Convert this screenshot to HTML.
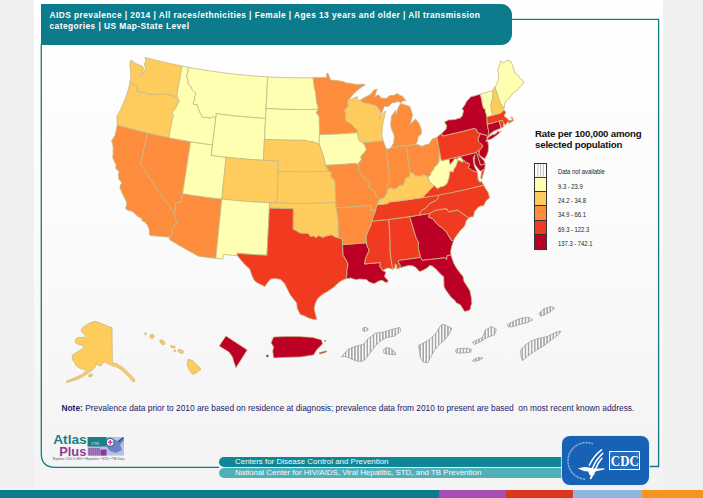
<!DOCTYPE html>
<html><head><meta charset="utf-8"><title>AIDS prevalence map</title>
<style>
html,body{margin:0;padding:0}
body{width:703px;height:498px;position:relative;overflow:hidden;background:#f0f0f0;font-family:"Liberation Sans",sans-serif}
.slide{position:absolute;left:33.5px;top:0;width:629.8px;height:490px;background:linear-gradient(180deg,#ffffff 0%,#fbfbfb 45%,#f3f3f3 100%)}
.hdr{position:absolute;left:40.5px;top:3.6px;width:471.3px;height:41.3px;background:#0c7c8d;border-radius:0 11px 11px 0;color:#fff;font-weight:bold;font-size:8.4px;line-height:11.1px;letter-spacing:0.43px}
.hdr div{position:absolute;left:9px;top:6.5px;white-space:nowrap}
.frame{position:absolute;left:0;top:0}
.map{position:absolute;left:0;top:0}
.lt{position:absolute;left:535px;top:127.8px;font-weight:bold;font-size:9.7px;line-height:11px;color:#111;white-space:nowrap;letter-spacing:-0.2px}
.lg{position:absolute;left:533.8px;top:162.5px;width:10.8px;border:0.6px solid #333}
.lg i{display:block;height:14.25px;border-bottom:0.6px solid #333;box-sizing:border-box}
.lg i:last-child{border-bottom:none}
.ll{position:absolute;left:557.5px;font-size:6.3px;color:#222;white-space:nowrap;line-height:8px;transform:scaleX(0.93);transform-origin:0 0}
   .note{position:absolute;left:61.5px;top:403.1px;font-size:8.35px;color:#1c2266;white-space:nowrap}
.bar1,.bar2{position:absolute;left:218.5px;width:345px;color:#f4fbfb;font-size:7.95px;white-space:nowrap;border-radius:6px 0 0 6px}
.bar1{top:456.5px;height:10px;background:#0f8796;line-height:10px}
.bar2{top:467.5px;height:10px;background:#4fb0ba;line-height:10px}
.bar1 span,.bar2 span{position:absolute;left:16.5px;top:0}
.stripe{position:absolute;left:0;top:489.5px;height:9px}
.cdc{position:absolute;left:562px;top:435.5px;width:86.5px;height:49.5px;border-radius:8px;background:#1762b4;box-shadow:0 0 0 0.8px #dfe9f5}
.cdcbox{position:absolute;left:47px;top:15.5px;width:31px;height:19px;border:0.9px solid #fff;box-sizing:border-box;color:#fff;font-family:"Liberation Serif",serif;font-weight:bold;font-size:15.5px;line-height:17.5px;text-align:center;background:repeating-linear-gradient(135deg,#1762b4 0 1.4px,#3f7fc6 1.4px 2.2px)}
.cdcbox span{display:inline-block;transform:scaleX(0.83);transform-origin:50% 50%;margin-left:-3px;margin-right:-3px}
.atlas{position:absolute;left:52.3px;top:433px;width:76px;height:30px}
</style></head><body>
<div class="slide"></div>
<svg class="frame" width="703" height="498" viewBox="0 0 703 498" fill="none" stroke="#127a86" stroke-width="1.3">
<path d="M511 19.4 H658.6 V466.5 H648"/>
<path d="M41.3 44 V453.5 Q41.3 467.3 55 467.3 H219"/>
</svg>
<div class="hdr"><div>AIDS prevalence | 2014 | All races/ethnicities | Female | Ages 13 years and older | All transmission<br>categories | US Map-State Level</div></div>
<svg class="map" width="703" height="498" viewBox="0 0 703 498">
<defs><pattern id="hatch" width="3.1" height="6" patternUnits="userSpaceOnUse"><rect width="3.1" height="6" fill="#fafafa"/><rect x="1" width="1.1" height="6" fill="#858585"/></pattern></defs>
<g stroke="#c6ba84" stroke-width="0.85" stroke-linejoin="round">
<path d="M145.0 57.4 L146.0 60.3 L144.5 63.7 L145.5 68.2 L143.9 72.0 L142.5 74.9 L140.5 76.0 L142.1 73.7 L143.5 69.8 L142.8 66.4 L140.8 65.6 L138.7 64.8 L135.6 63.4 L133.2 61.7 L130.7 60.1 L129.9 65.0 L130.3 68.3 L130.6 71.6 L130.9 76.0 L130.6 78.6 L129.9 82.7 L132.4 84.1 L133.9 84.4 L136.5 86.2 L137.0 88.9 L137.2 91.5 L139.6 92.7 L142.6 92.4 L145.3 92.6 L147.3 94.3 L149.9 94.2 L152.1 94.5 L154.3 94.7 L157.9 94.3 L160.6 94.0 L163.2 93.8 L166.0 94.4 L168.8 95.0 L171.6 95.6 L174.4 96.2 L177.2 96.7 L177.3 92.3 L178.1 87.9 L178.9 83.5 L179.7 79.1 L180.5 74.7 L181.3 70.4 L182.1 66.0 L179.0 65.4 L175.9 64.7 L172.8 64.1 L169.7 63.4 L166.6 62.7 L163.5 62.0 L160.4 61.3 L157.3 60.5 L154.2 59.8 L151.1 59.0 L148.0 58.2Z" fill="#FECC5C"/>
<path d="M177.2 96.7 L174.4 96.2 L171.6 95.6 L168.8 95.0 L166.0 94.4 L163.2 93.8 L160.6 94.0 L157.9 94.3 L154.3 94.7 L152.1 94.5 L149.9 94.2 L147.3 94.3 L145.3 92.6 L142.6 92.4 L139.6 92.7 L137.2 91.5 L137.0 88.9 L136.5 86.2 L133.9 84.4 L132.4 84.1 L129.9 82.7 L129.0 86.5 L128.1 90.4 L126.6 94.8 L125.1 99.2 L123.4 103.1 L121.7 107.0 L120.0 110.8 L118.5 113.4 L117.0 116.1 L117.1 120.7 L117.2 125.3 L120.6 126.2 L123.9 127.1 L127.3 128.0 L130.6 128.9 L134.0 129.8 L137.3 130.6 L140.7 131.5 L144.1 132.3 L147.4 133.1 L151.0 133.9 L154.6 134.7 L158.1 135.5 L161.7 136.2 L165.3 137.0 L168.9 137.7 L169.8 133.1 L170.6 128.4 L171.5 123.8 L172.3 119.2 L173.9 115.7 L172.1 113.8 L172.5 111.7 L175.7 108.1 L177.5 104.2 L179.4 101.4Z" fill="#FECC5C"/>
<path d="M117.2 125.3 L116.7 127.8 L115.9 131.4 L115.2 135.0 L113.4 137.9 L111.7 140.7 L113.1 145.9 L113.1 149.7 L113.1 153.6 L112.8 157.8 L114.5 161.6 L116.2 165.3 L115.8 168.4 L119.1 171.5 L118.3 174.6 L118.9 179.0 L120.4 181.1 L122.0 183.1 L120.3 184.8 L120.0 188.0 L121.7 192.0 L123.5 195.9 L125.1 199.0 L126.7 202.1 L126.5 204.8 L125.7 208.2 L126.9 209.7 L129.9 210.7 L133.0 211.7 L136.4 215.2 L139.3 217.4 L141.7 218.0 L142.0 220.7 L144.4 221.7 L147.5 225.1 L149.5 230.3 L149.3 233.5 L150.1 235.4 L154.1 235.8 L158.1 236.2 L162.2 236.5 L166.2 236.9 L170.2 237.2 L172.5 234.6 L171.5 230.2 L173.2 228.3 L174.7 224.3 L177.5 222.0 L175.8 219.7 L175.4 217.0 L174.7 213.7 L171.4 209.2 L168.2 204.7 L165.0 200.2 L161.8 195.7 L158.7 191.2 L155.6 186.7 L152.5 182.2 L149.5 177.6 L146.6 173.0 L143.6 168.5 L140.8 163.9 L141.9 158.7 L143.0 153.6 L144.1 148.5 L145.2 143.3 L146.3 138.2 L147.4 133.1 L144.1 132.3 L140.7 131.5 L137.3 130.6 L134.0 129.8 L130.6 128.9 L127.3 128.0 L123.9 127.1 L120.6 126.2Z" fill="#FD8D3C"/>
<path d="M147.4 133.1 L146.3 138.2 L145.2 143.3 L144.1 148.5 L143.0 153.6 L141.9 158.7 L140.8 163.9 L143.6 168.5 L146.6 173.0 L149.5 177.6 L152.5 182.2 L155.6 186.7 L158.7 191.2 L161.8 195.7 L165.0 200.2 L168.2 204.7 L171.4 209.2 L174.7 213.7 L175.1 210.5 L175.5 207.4 L175.6 202.9 L178.4 202.5 L181.3 202.1 L181.9 197.9 L182.6 193.7 L183.4 188.5 L184.2 183.3 L185.0 178.0 L185.8 172.8 L186.6 167.6 L187.4 162.5 L188.2 157.3 L189.0 152.1 L189.8 146.9 L190.6 141.7 L187.0 141.1 L183.4 140.4 L179.8 139.8 L176.2 139.1 L172.6 138.4 L169.0 137.7 L165.4 137.0 L161.8 136.2 L158.2 135.5 L154.6 134.7 L151.0 133.9Z" fill="#FD8D3C"/>
<path d="M182.6 193.7 L181.9 197.9 L181.3 202.1 L178.4 202.5 L175.6 202.9 L175.5 207.4 L175.1 210.5 L174.7 213.7 L175.4 217.0 L175.8 219.7 L177.5 222.0 L174.7 224.3 L173.2 228.3 L171.5 230.2 L172.5 234.6 L170.2 237.2 L169.1 239.4 L172.7 241.6 L176.4 243.7 L180.0 245.9 L183.7 248.0 L187.4 250.1 L191.2 252.2 L194.9 254.2 L198.7 256.3 L202.1 256.7 L205.5 257.1 L208.9 257.5 L212.3 257.9 L215.8 258.3 L216.3 253.4 L216.8 248.5 L217.3 243.6 L217.8 238.6 L218.3 233.7 L218.8 228.7 L219.3 223.8 L219.8 218.9 L220.3 213.9 L220.8 209.0 L221.3 204.0 L221.8 199.1 L217.9 198.6 L213.9 198.2 L210.0 197.7 L206.1 197.2 L202.2 196.6 L198.2 196.1 L194.3 195.5 L190.4 194.9 L186.5 194.3Z" fill="#FD8D3C"/>
<path d="M190.6 141.7 L194.3 142.3 L197.9 142.8 L201.6 143.4 L205.2 143.9 L208.8 144.4 L212.5 144.9 L211.9 150.1 L211.2 155.4 L214.9 155.8 L218.7 156.3 L222.4 156.8 L226.1 157.2 L225.6 162.4 L225.0 167.6 L224.5 172.9 L224.0 178.1 L223.4 183.4 L222.9 188.6 L222.4 193.8 L221.8 199.1 L217.9 198.6 L213.9 198.2 L210.0 197.7 L206.1 197.2 L202.2 196.6 L198.2 196.1 L194.3 195.5 L190.4 194.9 L186.5 194.3 L182.6 193.7 L183.4 188.5 L184.2 183.3 L185.0 178.0 L185.8 172.8 L186.6 167.6 L187.4 162.5 L188.2 157.3 L189.0 152.1 L189.8 146.9Z" fill="#FFFFB2"/>
<path d="M182.1 66.0 L181.3 70.4 L180.5 74.7 L179.7 79.1 L178.9 83.5 L178.1 87.9 L177.3 92.3 L177.2 96.7 L179.4 101.4 L177.5 104.2 L175.7 108.1 L172.5 111.7 L172.1 113.8 L173.9 115.7 L172.3 119.2 L171.5 123.8 L170.6 128.4 L169.8 133.1 L168.9 137.7 L172.5 138.4 L176.1 139.1 L179.8 139.8 L183.4 140.4 L187.0 141.1 L190.6 141.7 L194.3 142.3 L197.9 142.8 L201.6 143.4 L205.2 143.9 L208.8 144.4 L212.5 144.9 L213.1 139.8 L213.8 134.6 L214.4 129.4 L215.0 124.3 L215.7 119.1 L214.5 117.2 L213.2 116.3 L210.4 118.2 L206.9 117.2 L204.9 117.4 L202.9 117.6 L200.6 113.6 L199.5 111.8 L198.2 107.9 L197.3 104.6 L194.1 104.6 L193.0 102.8 L194.4 100.9 L194.5 97.8 L196.0 93.3 L194.2 91.4 L192.3 89.5 L190.5 86.0 L187.7 83.7 L188.4 80.9 L186.7 77.6 L187.3 74.2 L187.9 70.7 L188.5 67.3 L185.3 66.7Z" fill="#FFFFB2"/>
<path d="M188.5 67.3 L187.9 70.7 L187.3 74.2 L186.7 77.6 L188.4 80.9 L187.7 83.7 L190.5 86.0 L192.3 89.5 L194.2 91.4 L196.0 93.3 L194.5 97.8 L194.4 100.9 L193.0 102.8 L194.1 104.6 L197.3 104.6 L198.2 107.9 L199.5 111.8 L200.6 113.6 L202.9 117.6 L204.9 117.4 L206.9 117.2 L210.4 118.2 L213.2 116.3 L214.5 117.2 L215.7 119.1 L216.0 116.4 L216.3 113.7 L219.8 114.2 L223.3 114.6 L226.9 115.0 L230.4 115.4 L233.9 115.8 L237.4 116.2 L240.9 116.5 L244.4 116.8 L248.0 117.1 L251.5 117.4 L255.0 117.7 L258.5 117.9 L262.1 118.2 L265.6 118.4 L265.9 113.1 L266.1 107.9 L266.4 102.7 L266.7 97.6 L266.9 92.4 L267.2 87.2 L267.4 82.0 L267.7 76.9 L264.4 76.7 L261.1 76.5 L257.8 76.2 L254.4 76.0 L251.1 75.7 L247.8 75.4 L244.5 75.1 L241.2 74.8 L237.9 74.5 L234.6 74.1 L231.3 73.8 L228.0 73.4 L224.7 73.0 L221.4 72.5 L218.1 72.1 L214.8 71.6 L211.5 71.1 L208.2 70.6 L204.9 70.1 L201.6 69.6 L198.4 69.0 L195.1 68.5 L191.8 67.9Z" fill="#FFFFB2"/>
<path d="M216.3 113.7 L219.8 114.2 L223.3 114.6 L226.9 115.0 L230.4 115.4 L233.9 115.8 L237.4 116.2 L240.9 116.5 L244.4 116.8 L248.0 117.1 L251.5 117.4 L255.0 117.7 L258.5 117.9 L262.1 118.2 L265.6 118.4 L265.3 123.6 L265.0 128.8 L264.8 134.0 L264.5 139.3 L264.2 144.5 L264.0 149.8 L263.7 155.0 L263.4 160.3 L259.7 160.0 L256.0 159.8 L252.2 159.6 L248.5 159.3 L244.7 159.0 L241.0 158.7 L237.3 158.3 L233.6 158.0 L229.8 157.6 L226.1 157.2 L222.4 156.8 L218.7 156.3 L214.9 155.8 L211.2 155.4 L211.9 150.1 L212.5 144.9 L213.1 139.7 L213.8 134.5 L214.4 129.3 L215.1 124.1 L215.7 118.9Z" fill="#FFFFB2"/>
<path d="M226.1 157.2 L229.8 157.6 L233.6 158.0 L237.3 158.3 L241.0 158.7 L244.7 159.0 L248.5 159.3 L252.2 159.6 L256.0 159.8 L259.7 160.0 L263.4 160.3 L267.2 160.5 L270.9 160.6 L274.7 160.8 L278.4 160.9 L278.2 166.2 L278.1 171.5 L277.9 176.7 L277.8 182.0 L277.6 187.2 L277.5 192.5 L277.3 197.8 L277.2 203.0 L273.5 202.9 L269.8 202.8 L266.1 202.6 L262.4 202.4 L258.7 202.2 L255.0 202.0 L251.3 201.7 L247.6 201.5 L243.9 201.2 L240.2 200.9 L236.5 200.5 L232.9 200.2 L229.2 199.8 L225.5 199.5 L221.8 199.1 L222.4 193.8 L222.9 188.6 L223.4 183.4 L224.0 178.1 L224.5 172.9 L225.0 167.6 L225.6 162.4Z" fill="#FECC5C"/>
<path d="M221.8 199.1 L225.5 199.5 L229.1 199.8 L232.8 200.2 L236.5 200.5 L240.2 200.9 L243.8 201.2 L247.5 201.4 L251.2 201.7 L254.9 202.0 L258.5 202.2 L262.2 202.4 L265.9 202.6 L269.6 202.8 L269.4 208.0 L269.1 213.3 L268.8 218.5 L268.6 223.8 L268.3 229.0 L268.0 234.3 L267.7 239.5 L267.5 244.8 L267.2 250.0 L266.9 255.3 L263.2 255.1 L259.4 254.9 L255.7 254.7 L251.9 254.4 L248.2 254.2 L244.4 253.9 L240.7 253.6 L236.9 253.3 L237.5 255.7 L233.9 255.4 L230.4 255.1 L226.9 254.7 L223.3 254.4 L222.9 259.1 L219.3 258.7 L215.8 258.3 L216.3 253.4 L216.8 248.5 L217.3 243.6 L217.8 238.6 L218.3 233.7 L218.8 228.7 L219.3 223.8 L219.8 218.9 L220.3 213.9 L220.8 209.0 L221.3 204.0Z" fill="#FFFFB2"/>
<path d="M267.7 76.9 L270.9 77.1 L274.2 77.2 L277.4 77.3 L280.7 77.5 L283.9 77.6 L287.1 77.6 L290.4 77.7 L293.6 77.8 L296.8 77.8 L300.1 77.8 L303.3 77.8 L306.6 77.8 L309.8 77.8 L313.0 77.7 L313.8 82.8 L314.4 88.0 L315.9 93.2 L316.2 98.3 L316.8 103.5 L317.9 105.6 L318.3 109.3 L314.8 109.4 L311.3 109.5 L307.8 109.5 L304.3 109.5 L300.9 109.5 L297.4 109.5 L293.9 109.5 L290.4 109.4 L286.9 109.4 L283.5 109.3 L280.0 109.2 L276.5 109.1 L273.0 108.9 L269.6 108.7 L266.1 108.6 L266.3 104.0 L266.6 99.5 L266.8 94.9 L267.0 90.4 L267.2 85.9 L267.5 81.4Z" fill="#FFFFB2"/>
<path d="M266.1 108.6 L269.6 108.7 L273.0 108.9 L276.5 109.1 L280.0 109.2 L283.5 109.3 L286.9 109.4 L290.4 109.4 L293.9 109.5 L297.4 109.5 L300.9 109.5 L304.3 109.5 L307.8 109.5 L311.3 109.5 L314.8 109.4 L318.3 109.3 L316.3 112.9 L319.2 116.0 L319.3 120.7 L319.4 125.4 L319.6 130.1 L319.7 134.8 L319.0 136.9 L319.8 139.0 L318.8 142.2 L319.9 145.4 L316.2 142.8 L314.4 142.6 L312.9 141.6 L309.6 141.8 L307.3 141.1 L304.9 140.3 L301.5 140.3 L298.2 140.3 L294.8 140.3 L291.4 140.2 L288.1 140.2 L284.7 140.1 L281.3 140.0 L278.0 139.9 L274.6 139.8 L271.2 139.6 L267.9 139.5 L264.5 139.3 L264.8 134.1 L265.0 129.0 L265.3 123.9 L265.6 118.8 L265.8 113.7Z" fill="#FFFFB2"/>
<path d="M264.5 139.3 L267.9 139.5 L271.2 139.6 L274.6 139.8 L278.0 139.9 L281.3 140.0 L284.7 140.1 L288.1 140.2 L291.4 140.2 L294.8 140.3 L298.2 140.3 L301.5 140.3 L304.9 140.3 L307.3 141.1 L309.6 141.8 L312.9 141.6 L314.4 142.6 L316.2 142.8 L319.9 145.4 L321.6 150.5 L322.8 153.6 L324.2 158.3 L325.0 162.0 L325.6 165.3 L327.4 168.6 L329.3 171.3 L325.6 171.4 L322.0 171.5 L318.3 171.6 L314.6 171.7 L311.0 171.8 L307.3 171.8 L303.7 171.8 L300.0 171.8 L296.4 171.8 L292.7 171.8 L289.0 171.7 L285.4 171.7 L281.7 171.6 L278.1 171.5 L278.2 166.2 L278.4 160.9 L274.7 160.8 L270.9 160.6 L267.2 160.5 L263.4 160.3 L263.7 155.0 L264.0 149.8 L264.2 144.5Z" fill="#FECC5C"/>
<path d="M278.1 171.5 L281.7 171.6 L285.4 171.7 L289.0 171.7 L292.7 171.8 L296.4 171.8 L300.0 171.8 L303.7 171.8 L307.3 171.8 L311.0 171.8 L314.6 171.7 L318.3 171.6 L322.0 171.5 L325.6 171.4 L329.3 171.3 L331.7 172.8 L331.0 176.0 L332.7 178.5 L335.0 180.3 L335.2 184.8 L335.4 189.2 L335.5 193.7 L335.7 198.2 L335.9 202.6 L332.0 202.8 L328.1 203.0 L324.2 203.1 L320.2 203.2 L316.3 203.3 L312.4 203.4 L308.5 203.4 L304.6 203.4 L300.7 203.5 L296.7 203.4 L292.8 203.4 L288.9 203.3 L285.0 203.3 L281.1 203.2 L277.2 203.0 L277.3 197.8 L277.5 192.5 L277.6 187.2 L277.8 182.0 L277.9 176.7Z" fill="#FECC5C"/>
<path d="M269.6 202.8 L273.5 202.9 L277.4 203.1 L281.3 203.2 L285.2 203.3 L289.1 203.3 L293.0 203.4 L296.9 203.4 L300.8 203.5 L304.7 203.4 L308.6 203.4 L312.5 203.4 L316.4 203.3 L320.3 203.2 L324.2 203.1 L328.1 203.0 L332.0 202.8 L335.9 202.6 L336.1 207.9 L336.8 211.8 L337.5 215.6 L338.2 219.5 L338.3 224.1 L338.4 228.7 L338.4 233.3 L338.5 237.9 L335.9 237.4 L331.7 234.9 L327.6 235.8 L325.2 236.6 L322.7 237.4 L320.6 236.6 L318.1 235.4 L316.5 237.7 L313.6 236.0 L310.3 236.6 L308.2 233.4 L304.5 233.4 L302.0 233.2 L299.6 232.9 L296.3 230.8 L293.1 229.1 L293.1 224.0 L293.2 218.9 L293.2 213.8 L293.3 208.7 L289.3 208.6 L285.3 208.5 L281.3 208.4 L277.3 208.3 L273.3 208.2 L269.4 208.0Z" fill="#FECC5C"/>
<path d="M269.4 208.0 L273.3 208.2 L277.3 208.3 L281.3 208.4 L285.3 208.5 L289.3 208.6 L293.3 208.7 L293.2 213.8 L293.2 218.9 L293.1 224.0 L293.1 229.1 L296.3 230.8 L299.6 232.9 L302.0 233.2 L304.5 233.4 L308.2 233.4 L310.3 236.6 L313.6 236.0 L316.5 237.7 L318.1 235.4 L320.6 236.6 L322.7 237.4 L325.2 236.6 L327.6 235.8 L331.7 234.9 L335.9 237.4 L338.5 237.9 L342.3 238.7 L342.4 241.5 L342.6 244.4 L342.8 249.7 L343.1 254.9 L345.4 259.0 L347.7 263.0 L347.9 266.2 L346.8 270.4 L347.0 274.6 L346.0 278.8 L343.6 279.8 L341.3 280.7 L338.3 282.9 L334.5 286.7 L330.9 289.2 L327.2 291.7 L324.8 293.0 L322.4 294.4 L320.0 296.5 L317.6 298.7 L315.5 302.9 L314.2 308.1 L315.2 313.2 L316.6 318.4 L316.7 319.7 L313.9 319.5 L311.2 318.7 L308.5 318.0 L304.8 315.9 L300.3 314.4 L298.7 311.3 L297.2 308.2 L296.7 303.0 L293.7 299.3 L290.6 295.6 L288.0 290.4 L286.3 287.0 L284.6 283.6 L280.4 279.3 L277.8 279.0 L275.2 278.6 L270.8 279.0 L267.6 282.5 L264.8 286.6 L262.5 285.4 L260.1 284.2 L257.6 283.1 L254.2 280.3 L251.9 275.4 L250.8 272.2 L249.7 269.0 L247.2 266.7 L244.8 264.5 L240.8 260.0 L237.5 255.7 L236.9 253.3 L240.7 253.6 L244.4 253.9 L248.2 254.2 L251.9 254.4 L255.7 254.7 L259.4 254.9 L263.2 255.1 L266.9 255.3 L267.2 250.0 L267.5 244.8 L267.7 239.5 L268.0 234.3 L268.3 229.0 L268.6 223.8 L268.8 218.5 L269.1 213.3Z" fill="#F03B20"/>
<path d="M342.6 244.4 L346.6 244.2 L350.6 244.0 L354.5 243.7 L358.5 243.4 L362.5 243.1 L366.5 242.8 L367.4 246.9 L369.3 249.9 L367.9 253.2 L365.7 258.1 L365.1 261.0 L364.5 264.0 L368.4 263.6 L372.4 263.3 L376.4 262.9 L380.4 262.5 L379.9 266.2 L382.7 270.7 L385.9 271.9 L385.2 274.1 L384.6 276.8 L388.1 280.6 L387.4 282.8 L384.7 282.0 L382.3 280.2 L378.9 281.0 L374.7 283.5 L372.0 283.2 L368.4 281.5 L366.5 279.5 L362.1 279.3 L359.5 279.0 L356.0 279.8 L353.4 278.9 L350.7 278.0 L348.3 278.4 L346.0 278.8 L347.0 274.6 L346.8 270.4 L347.9 266.2 L347.7 263.0 L345.4 259.0 L343.1 254.9 L342.8 249.7Z" fill="#BD0026"/>
<path d="M371.9 221.2 L370.3 226.6 L367.5 232.1 L365.8 237.0 L366.1 239.9 L366.5 242.8 L367.4 246.9 L369.3 249.9 L367.9 253.2 L365.7 258.1 L365.1 261.0 L364.5 264.0 L368.4 263.6 L372.4 263.3 L376.4 262.9 L380.4 262.5 L379.9 266.2 L382.7 270.7 L384.3 269.5 L387.2 268.1 L389.9 268.3 L392.6 269.4 L392.0 265.0 L391.3 260.7 L390.7 256.3 L390.1 252.0 L390.1 248.1 L390.1 244.2 L390.1 240.4 L389.8 235.1 L389.5 229.9 L389.2 224.6 L388.8 219.4 L385.5 219.8 L382.1 220.1 L378.7 220.5 L375.3 220.8Z" fill="#F03B20"/>
<path d="M388.8 219.4 L389.2 224.6 L389.5 229.9 L389.8 235.1 L390.1 240.4 L390.1 244.2 L390.1 248.1 L390.1 252.0 L390.7 256.3 L391.3 260.7 L392.0 265.0 L392.6 269.4 L395.0 267.7 L395.2 264.2 L396.1 264.4 L397.1 267.0 L396.0 268.9 L398.6 268.4 L400.1 267.9 L400.4 265.5 L398.5 262.0 L398.5 260.5 L402.2 260.0 L405.9 259.5 L409.5 259.0 L413.2 258.5 L416.9 257.9 L420.6 257.4 L419.4 252.3 L418.4 248.2 L418.4 245.2 L418.5 242.2 L416.3 238.4 L415.0 234.1 L413.7 229.7 L412.4 225.3 L411.1 221.0 L409.8 216.6 L406.3 217.1 L402.8 217.6 L399.3 218.0 L395.8 218.5 L392.3 218.9Z" fill="#F03B20"/>
<path d="M409.8 216.6 L411.1 221.0 L412.4 225.3 L413.7 229.7 L415.0 234.1 L416.3 238.4 L418.5 242.2 L418.4 245.2 L418.4 248.2 L419.4 252.3 L420.6 257.4 L422.2 260.3 L426.0 259.9 L429.8 259.5 L433.6 259.1 L437.4 258.7 L441.1 258.2 L444.9 257.7 L446.6 259.8 L447.2 255.5 L451.0 255.1 L450.7 251.1 L451.7 246.6 L452.6 243.6 L453.6 240.6 L451.4 240.3 L449.0 236.5 L446.4 231.7 L441.7 227.5 L440.0 226.5 L436.0 222.9 L432.8 218.7 L428.4 217.0 L429.9 213.3 L425.9 214.0 L421.9 214.7 L417.9 215.4 L413.8 216.0Z" fill="#BD0026"/>
<path d="M420.6 257.4 L416.9 257.9 L413.2 258.5 L409.5 259.0 L405.9 259.5 L402.2 260.0 L398.5 260.5 L398.5 262.0 L400.4 265.5 L400.1 267.9 L402.2 267.2 L404.4 266.6 L408.6 265.5 L413.0 265.9 L415.9 267.6 L419.5 271.6 L422.4 270.6 L424.9 269.3 L427.3 268.0 L429.6 265.5 L432.3 266.1 L436.4 269.6 L440.1 273.7 L443.7 276.8 L443.8 279.9 L443.9 283.1 L444.0 286.3 L445.3 289.2 L447.2 292.0 L449.2 294.8 L451.3 297.6 L454.5 300.1 L456.4 302.9 L460.4 304.8 L462.0 307.4 L463.6 309.9 L464.5 311.6 L468.9 310.5 L470.5 309.1 L470.7 306.4 L471.9 303.3 L471.6 300.6 L471.4 297.8 L470.7 294.5 L470.1 291.2 L468.6 288.6 L467.0 286.1 L464.0 281.4 L463.2 276.8 L460.6 273.6 L457.1 269.0 L455.4 266.1 L453.8 263.3 L452.0 258.3 L451.0 255.1 L447.2 255.5 L446.6 259.8 L444.9 257.7 L441.1 258.2 L437.4 258.7 L433.6 259.1 L429.8 259.5 L426.0 259.9 L422.2 260.3Z" fill="#BD0026"/>
<path d="M429.9 213.3 L428.4 217.0 L432.8 218.7 L436.0 222.9 L440.0 226.5 L441.7 227.5 L446.4 231.7 L449.0 236.5 L451.4 240.3 L453.6 240.6 L454.8 238.0 L457.2 234.8 L459.9 231.1 L462.4 228.4 L464.8 225.7 L466.3 220.6 L468.7 217.9 L465.0 215.3 L461.3 212.7 L457.6 210.1 L454.6 210.7 L451.6 211.2 L448.6 211.8 L447.1 209.1 L446.3 209.8 L446.1 208.5 L442.6 209.1 L439.1 209.7 L435.6 210.2 L432.7 211.8Z" fill="#F03B20"/>
<path d="M438.4 194.8 L438.5 197.4 L435.9 200.5 L432.2 202.3 L429.9 203.2 L427.4 205.8 L425.8 208.1 L422.0 209.9 L420.0 212.4 L420.1 215.0 L423.4 214.5 L426.6 213.9 L429.9 213.3 L432.7 211.8 L435.6 210.2 L439.1 209.7 L442.6 209.1 L446.1 208.5 L446.3 209.8 L447.1 209.1 L448.6 211.8 L451.6 211.2 L454.6 210.7 L457.6 210.1 L461.3 212.7 L465.0 215.3 L468.7 217.9 L470.6 216.9 L473.4 216.8 L474.8 211.1 L476.7 209.0 L478.5 206.9 L481.6 205.7 L483.2 206.3 L484.7 203.5 L486.3 200.7 L489.6 197.7 L488.8 194.9 L488.0 192.1 L485.4 188.4 L483.7 185.1 L479.9 186.0 L476.2 186.9 L472.4 187.8 L468.6 188.6 L464.9 189.5 L461.1 190.3 L457.3 191.1 L453.5 191.9 L449.7 192.6 L445.9 193.4 L442.2 194.1Z" fill="#F03B20"/>
<path d="M376.8 204.8 L380.7 204.4 L384.5 204.0 L388.3 203.5 L388.1 201.6 L389.7 202.0 L393.4 201.6 L397.1 201.1 L400.7 200.7 L404.4 200.2 L408.0 199.7 L411.7 199.2 L415.4 198.6 L419.0 198.1 L422.7 197.5 L426.6 196.9 L430.5 196.2 L434.4 195.5 L438.4 194.8 L438.5 197.4 L435.9 200.5 L432.2 202.3 L429.9 203.2 L427.4 205.8 L425.8 208.1 L422.0 209.9 L420.0 212.4 L420.1 215.0 L416.7 215.5 L413.2 216.1 L409.8 216.6 L406.3 217.1 L402.8 217.6 L399.3 218.0 L395.8 218.5 L392.3 218.9 L388.8 219.4 L385.5 219.8 L382.1 220.1 L378.7 220.5 L375.3 220.8 L371.9 221.2 L373.1 216.8 L374.4 213.5 L375.7 210.2 L375.9 208.1Z" fill="#F03B20"/>
<path d="M422.7 197.5 L419.0 198.1 L415.4 198.6 L411.7 199.2 L408.0 199.7 L404.4 200.2 L400.7 200.7 L397.1 201.1 L393.4 201.6 L389.7 202.0 L388.1 201.6 L388.3 203.5 L384.5 204.0 L380.7 204.4 L376.8 204.8 L379.2 199.3 L381.3 198.6 L383.3 198.0 L386.8 193.6 L387.0 189.9 L390.3 187.7 L394.2 189.0 L397.9 187.4 L399.9 184.5 L402.1 186.0 L404.0 182.9 L405.7 177.8 L409.1 176.8 L409.9 172.9 L412.4 172.5 L415.1 175.3 L419.2 176.2 L421.8 175.4 L424.4 174.5 L428.0 177.1 L429.6 181.9 L433.7 185.4 L434.4 185.5 L432.2 187.7 L430.1 189.8 L428.2 191.8 L426.3 193.7 L424.5 195.6Z" fill="#FECC5C"/>
<path d="M422.7 197.6 L422.7 197.5 L424.5 195.6 L426.3 193.7 L428.2 191.8 L430.1 189.8 L432.2 187.7 L434.4 185.5 L437.2 188.5 L440.8 186.7 L443.5 186.2 L446.0 184.6 L447.3 182.7 L448.8 178.1 L449.4 174.5 L450.1 170.9 L453.1 172.0 L454.0 168.4 L455.5 167.0 L456.8 163.4 L458.1 159.8 L460.4 161.1 L462.7 162.3 L463.0 160.2 L464.5 160.4 L465.7 162.5 L468.5 163.1 L469.3 163.8 L469.5 165.3 L468.2 167.6 L470.4 168.9 L471.8 170.2 L475.3 171.5 L477.5 172.0 L477.9 175.7 L477.9 179.0 L479.4 181.8 L481.8 181.8 L483.7 185.1 L479.9 186.0 L476.2 187.0 L472.4 187.9 L468.7 188.8 L464.9 189.7 L461.1 190.5 L457.3 191.3 L453.6 192.2 L449.8 193.0 L446.0 193.7 L442.2 194.5 L438.4 195.2 L434.5 195.9 L430.6 196.5 L426.6 197.1ZM481.9 170.3 L484.8 168.7 L483.9 171.8 L483.0 174.9 L481.7 179.6 L480.7 177.7 L481.4 173.2Z" fill="#F03B20"/>
<path d="M428.0 177.1 L430.7 174.7 L430.8 172.0 L433.4 169.9 L434.3 166.9 L436.8 165.0 L438.8 161.9 L439.1 157.3 L439.2 153.8 L439.5 151.2 L440.4 155.9 L441.3 160.7 L443.9 160.1 L446.5 159.6 L449.1 159.0 L449.6 161.7 L450.2 164.4 L452.9 161.1 L454.6 158.6 L457.1 159.1 L458.8 157.1 L461.1 157.6 L462.1 158.5 L463.0 160.2 L462.7 162.3 L460.4 161.1 L458.1 159.8 L456.8 163.4 L455.5 167.0 L454.0 168.4 L453.1 172.0 L450.1 170.9 L449.4 174.5 L448.8 178.1 L447.3 182.7 L446.0 184.6 L443.5 186.2 L440.8 186.7 L437.2 188.5 L434.4 185.5 L433.7 185.4 L429.6 181.9Z" fill="#FFFFB2"/>
<path d="M436.9 137.3 L434.5 138.2 L432.1 139.1 L429.2 144.0 L425.6 144.7 L422.1 146.4 L419.6 145.2 L416.1 144.2 L412.7 144.8 L409.4 145.3 L406.1 145.8 L406.7 150.4 L407.4 154.9 L408.0 159.4 L408.7 163.9 L409.3 168.4 L409.9 172.9 L412.4 172.5 L415.1 175.3 L419.2 176.2 L421.8 175.4 L424.4 174.5 L428.0 177.1 L430.7 174.7 L430.8 172.0 L433.4 169.9 L434.3 166.9 L436.8 165.0 L438.8 161.9 L439.1 157.3 L439.2 153.8 L439.5 151.2 L438.6 146.5 L437.8 141.9Z" fill="#FD8D3C"/>
<path d="M406.0 145.2 L403.1 145.7 L400.1 146.1 L397.2 146.5 L394.2 147.0 L391.3 147.4 L388.6 149.2 L386.2 148.6 L386.7 153.6 L387.3 158.5 L387.9 163.4 L388.4 168.3 L389.0 173.2 L389.6 177.9 L389.1 182.2 L387.1 185.6 L387.0 189.9 L390.3 187.7 L394.2 189.0 L397.9 187.4 L399.9 184.5 L402.1 186.0 L404.0 182.9 L405.7 177.8 L409.1 176.8 L409.9 172.9 L409.3 168.3 L408.6 163.7 L408.0 159.1 L407.3 154.4 L406.7 149.8Z" fill="#FD8D3C"/>
<path d="M383.2 140.6 L379.7 141.0 L376.3 141.4 L372.8 141.7 L369.4 142.1 L365.9 142.4 L362.5 142.8 L364.9 145.7 L366.3 149.8 L363.6 153.2 L360.6 156.7 L361.2 159.8 L358.4 163.2 L358.5 165.5 L358.6 170.5 L362.0 175.0 L365.1 179.5 L367.3 179.9 L369.4 180.4 L369.3 183.3 L368.5 187.6 L372.3 190.5 L375.6 192.2 L376.0 196.4 L379.2 199.3 L381.3 198.6 L383.3 198.0 L386.8 193.6 L387.0 189.9 L387.1 185.6 L389.1 182.2 L389.6 177.9 L389.0 173.2 L388.4 168.3 L387.9 163.4 L387.3 158.5 L386.7 153.6 L386.2 148.6 L384.9 145.6Z" fill="#FD8D3C"/>
<path d="M362.5 142.8 L365.9 142.4 L369.4 142.1 L372.8 141.7 L376.3 141.4 L379.7 141.0 L383.2 140.6 L381.9 135.4 L382.1 131.4 L382.4 127.4 L382.8 124.5 L383.2 121.5 L383.9 118.6 L384.6 115.6 L385.7 110.7 L383.4 113.1 L381.0 115.5 L379.3 119.4 L380.0 115.6 L381.5 113.3 L379.7 109.9 L377.2 106.5 L374.2 104.8 L372.1 104.3 L369.9 103.9 L366.4 103.1 L362.8 102.3 L360.4 100.2 L357.1 100.2 L357.1 96.6 L354.0 98.1 L350.8 99.7 L348.7 99.9 L347.5 100.5 L347.7 103.5 L347.9 106.5 L346.0 108.6 L344.1 110.6 L345.8 113.6 L345.2 117.9 L345.2 120.5 L348.2 122.4 L351.9 124.7 L353.9 127.2 L356.9 129.6 L357.4 132.7 L358.3 137.9 L359.3 140.9Z" fill="#FECC5C"/>
<path d="M391.3 147.4 L393.8 142.4 L394.1 139.1 L394.4 135.9 L392.3 130.9 L391.2 127.9 L390.7 123.7 L391.1 120.0 L391.5 116.2 L393.6 113.3 L395.7 110.3 L396.0 114.8 L397.0 111.6 L397.9 108.4 L400.6 103.5 L403.7 104.4 L406.7 105.4 L409.7 106.5 L410.9 109.5 L411.7 112.3 L412.5 115.1 L411.2 120.6 L409.7 124.6 L412.6 121.8 L415.6 119.1 L419.0 123.5 L420.2 126.5 L421.3 129.4 L421.4 133.7 L419.7 135.4 L417.9 137.2 L417.7 140.2 L416.0 143.9 L412.7 144.6 L409.4 145.2 L406.1 145.8 L406.0 145.2 L403.1 145.7 L400.1 146.1 L397.2 146.5 L394.2 147.0ZM381.5 113.3 L379.7 109.9 L377.2 106.5 L374.2 104.8 L372.1 104.3 L369.9 103.9 L366.4 103.1 L362.8 102.3 L360.4 100.2 L362.5 98.7 L365.8 96.8 L367.9 95.8 L370.0 94.8 L372.0 92.4 L374.0 90.1 L377.3 89.0 L376.2 91.4 L375.3 95.2 L373.7 97.0 L376.2 95.9 L378.7 94.8 L381.1 98.1 L383.8 98.3 L386.4 98.5 L389.2 95.8 L391.6 95.6 L394.0 95.3 L395.8 94.4 L397.6 93.5 L400.4 95.9 L402.1 95.7 L404.2 98.5 L406.0 100.8 L403.2 100.7 L400.5 102.8 L398.4 101.5 L395.3 102.2 L392.2 102.9 L390.0 104.8 L387.8 106.7 L384.5 106.1 L383.0 109.7Z" fill="#FD8D3C"/>
<path d="M318.3 109.3 L317.9 105.6 L316.8 103.5 L316.2 98.3 L315.9 93.2 L314.4 88.0 L313.8 82.8 L313.0 77.7 L315.8 77.6 L318.6 77.6 L321.3 77.5 L324.1 77.4 L326.8 77.3 L326.7 73.4 L328.0 73.3 L329.3 76.7 L330.6 80.0 L333.3 80.3 L336.0 80.5 L338.7 80.8 L341.1 81.2 L343.4 81.5 L346.2 82.9 L348.9 83.2 L351.6 83.5 L354.2 84.1 L356.8 84.6 L359.3 84.4 L361.8 84.1 L365.3 84.8 L362.7 86.4 L360.1 87.9 L357.1 90.6 L354.1 93.2 L351.5 96.3 L348.7 99.9 L347.5 100.5 L347.7 103.5 L347.9 106.5 L346.0 108.6 L344.1 110.6 L345.8 113.6 L345.2 117.9 L345.2 120.5 L348.2 122.4 L351.9 124.7 L353.9 127.2 L356.9 129.6 L357.4 132.7 L354.0 133.0 L350.6 133.2 L347.1 133.5 L343.7 133.7 L340.3 133.9 L336.8 134.1 L333.4 134.3 L330.0 134.4 L326.5 134.6 L323.1 134.7 L319.7 134.8 L319.6 130.1 L319.4 125.4 L319.3 120.7 L319.2 116.0 L316.3 112.9Z" fill="#FD8D3C"/>
<path d="M319.7 134.8 L323.1 134.7 L326.5 134.6 L330.0 134.4 L333.4 134.3 L336.8 134.1 L340.3 133.9 L343.7 133.7 L347.1 133.5 L350.6 133.2 L354.0 133.0 L357.4 132.7 L358.3 137.9 L359.3 140.9 L362.5 142.8 L364.9 145.7 L366.3 149.8 L363.6 153.2 L360.6 156.7 L361.2 159.8 L358.4 163.2 L358.5 165.5 L356.0 163.4 L352.6 163.7 L349.2 163.9 L345.8 164.2 L342.5 164.4 L339.1 164.6 L335.7 164.8 L332.3 165.0 L329.0 165.2 L325.6 165.3 L325.0 162.0 L324.2 158.3 L322.8 153.6 L321.6 150.5 L319.9 145.4 L318.8 142.2 L319.8 139.0 L319.0 136.9Z" fill="#FFFFB2"/>
<path d="M325.6 165.3 L329.0 165.2 L332.3 165.0 L335.7 164.8 L339.1 164.6 L342.5 164.4 L345.8 164.2 L349.2 163.9 L352.6 163.7 L356.0 163.4 L358.5 165.5 L358.6 170.5 L362.0 175.0 L365.1 179.5 L367.3 179.9 L369.4 180.4 L369.3 183.3 L368.5 187.6 L372.3 190.5 L375.6 192.2 L376.0 196.4 L379.2 199.3 L376.8 204.8 L375.9 208.1 L375.7 210.2 L373.1 210.5 L370.4 210.7 L371.7 205.3 L367.7 205.7 L363.8 206.0 L359.8 206.4 L355.9 206.7 L351.9 207.0 L348.0 207.2 L344.0 207.5 L340.1 207.7 L336.1 207.9 L335.9 202.6 L335.7 198.2 L335.5 193.7 L335.4 189.2 L335.2 184.8 L335.0 180.3 L332.7 178.5 L331.0 176.0 L331.7 172.8 L329.3 171.3 L327.4 168.6Z" fill="#FD8D3C"/>
<path d="M336.1 207.9 L340.1 207.7 L344.0 207.5 L348.0 207.2 L351.9 207.0 L355.9 206.7 L359.8 206.4 L363.8 206.0 L367.7 205.7 L371.7 205.3 L370.4 210.7 L373.1 210.5 L375.7 210.2 L374.4 213.5 L373.1 216.8 L371.9 221.2 L370.3 226.6 L367.5 232.1 L365.8 237.0 L366.1 239.9 L366.5 242.8 L362.5 243.1 L358.5 243.4 L354.5 243.7 L350.6 244.0 L346.6 244.2 L342.6 244.4 L342.4 241.5 L342.3 238.7 L338.5 237.9 L338.4 233.3 L338.4 228.7 L338.3 224.1 L338.2 219.5 L337.5 215.6 L336.8 211.8Z" fill="#FD8D3C"/>
<path d="M441.8 133.2 L442.4 136.0 L445.9 135.2 L449.4 134.4 L453.0 133.6 L456.5 132.8 L460.0 132.0 L463.5 131.1 L467.0 130.2 L470.5 129.3 L474.0 128.4 L476.6 129.4 L477.3 131.9 L480.4 133.7 L479.0 136.9 L478.3 138.5 L478.4 141.4 L479.8 142.7 L482.8 145.4 L482.5 146.8 L480.8 148.9 L479.1 151.0 L477.6 150.9 L476.5 152.5 L473.0 153.4 L469.5 154.3 L466.0 155.2 L462.5 156.0 L459.0 156.8 L455.4 157.6 L451.9 158.4 L448.4 159.2 L444.9 159.9 L441.3 160.7 L440.4 155.9 L439.5 151.2 L438.6 146.5 L437.8 141.9 L436.9 137.3 L439.6 134.9Z" fill="#F03B20"/>
<path d="M441.8 133.2 L443.9 131.2 L446.0 129.3 L446.7 125.6 L445.2 123.6 L444.7 121.8 L446.6 120.9 L448.5 119.9 L451.8 119.7 L455.1 119.5 L457.9 118.6 L460.7 117.8 L462.4 115.5 L463.5 110.6 L462.0 108.8 L464.5 105.5 L466.7 101.2 L468.8 99.0 L470.8 96.8 L474.0 96.0 L477.2 95.1 L480.3 94.2 L481.7 99.2 L482.5 104.4 L483.7 108.4 L484.9 108.6 L485.9 112.7 L486.9 116.7 L487.1 120.5 L487.2 124.3 L488.0 128.1 L488.8 132.0 L488.1 134.4 L488.9 135.2 L488.1 136.6 L487.0 139.1 L487.1 135.8 L483.7 134.7 L480.4 133.7 L477.3 131.9 L476.6 129.4 L474.0 128.4 L470.5 129.3 L467.0 130.2 L463.5 131.1 L460.0 132.0 L456.5 132.8 L453.0 133.6 L449.4 134.4 L445.9 135.2 L442.4 136.0ZM487.2 140.1 L490.4 139.4 L492.5 138.4 L495.7 136.0 L498.4 134.1 L500.0 132.4 L501.6 130.7 L499.4 132.2 L498.2 130.9 L495.9 133.8 L492.3 134.8 L489.9 136.1 L488.4 137.6 L487.2 139.0Z" fill="#BD0026"/>
<path d="M480.4 133.7 L483.7 134.7 L487.1 135.8 L487.0 139.1 L485.9 141.5 L487.8 141.3 L488.6 146.2 L488.1 151.8 L487.4 153.7 L484.9 158.9 L481.6 156.8 L479.0 154.8 L479.1 151.0 L480.8 148.9 L482.5 146.8 L482.8 145.4 L479.8 142.7 L478.4 141.4 L478.3 138.5 L479.0 136.9Z" fill="#BD0026"/>
<path d="M479.1 151.0 L477.6 150.9 L476.5 152.5 L477.8 156.7 L479.1 161.0 L480.4 165.2 L482.8 164.6 L485.2 164.0 L484.0 160.5 L481.3 158.0 L478.8 154.9Z" fill="#BD0026"/>
<path d="M449.1 159.0 L452.5 158.3 L456.0 157.5 L459.4 156.7 L462.8 155.9 L466.3 155.1 L469.7 154.2 L473.1 153.4 L476.5 152.5 L477.8 156.7 L479.1 161.0 L480.4 165.2 L482.8 164.6 L485.2 164.0 L484.8 168.7 L481.9 170.3 L480.3 171.2 L477.3 167.7 L475.2 165.0 L474.2 161.5 L474.5 157.6 L475.0 154.8 L473.2 157.9 L473.6 161.4 L474.4 166.3 L475.4 168.2 L476.6 170.6 L477.5 172.0 L475.3 171.5 L471.8 170.2 L470.4 168.9 L468.2 167.6 L469.5 165.3 L469.3 163.8 L468.5 163.1 L465.7 162.5 L464.5 160.4 L463.0 160.2 L462.1 158.5 L461.1 157.6 L458.8 157.1 L457.1 159.1 L454.6 158.6 L452.9 161.1 L450.2 164.4 L449.6 161.7Z" fill="#BD0026"/>
<path d="M487.2 124.3 L490.2 123.5 L493.3 122.6 L496.3 121.8 L499.3 120.9 L500.1 124.6 L501.0 128.2 L499.2 128.9 L496.4 130.1 L493.6 131.2 L490.5 133.7 L488.9 135.2 L488.1 134.4 L488.8 132.0 L488.0 128.1Z" fill="#BD0026"/>
<path d="M499.3 121.0 L502.3 120.1 L503.5 122.7 L505.7 124.8 L505.2 125.5 L503.5 123.3 L503.5 127.0 L501.0 128.2 L500.2 124.6Z" fill="#F03B20"/>
<path d="M486.9 116.7 L489.8 116.0 L492.8 115.2 L495.5 114.5 L498.2 113.8 L500.9 113.1 L503.8 110.3 L506.0 112.1 L504.0 116.0 L507.5 118.7 L509.3 120.7 L512.9 119.7 L510.5 117.0 L512.5 117.6 L513.5 120.4 L511.7 121.6 L509.9 122.9 L508.8 123.6 L508.5 121.1 L505.7 124.8 L503.5 122.7 L502.3 120.1 L499.3 121.0 L496.3 121.9 L493.3 122.7 L490.2 123.5 L487.2 124.3 L487.1 120.5Z" fill="#F03B20"/>
<path d="M480.3 94.2 L481.7 99.2 L482.5 104.4 L483.7 108.4 L484.9 108.6 L485.9 112.7 L486.9 116.7 L489.8 116.0 L492.8 115.2 L491.5 110.5 L491.0 106.3 L491.6 101.7 L492.9 97.0 L492.9 93.1 L492.9 90.4 L489.8 91.4 L486.6 92.3 L483.5 93.3Z" fill="#FFFFB2"/>
<path d="M492.9 90.4 L492.9 93.1 L492.9 97.0 L491.6 101.7 L491.0 106.3 L491.5 110.5 L492.8 115.2 L495.5 114.5 L498.2 113.8 L500.9 113.1 L503.8 110.3 L504.0 108.1 L500.7 103.6 L499.1 99.4 L497.7 95.1 L496.3 90.8 L494.9 86.5Z" fill="#FECC5C"/>
<path d="M494.9 86.5 L496.3 90.8 L497.7 95.1 L499.1 99.4 L500.7 103.6 L504.0 108.1 L504.6 104.8 L505.4 101.3 L507.4 99.8 L509.4 98.3 L510.8 96.2 L512.2 94.0 L514.5 92.2 L516.7 90.3 L518.4 88.6 L520.1 86.9 L521.8 85.2 L524.1 82.0 L521.7 79.4 L520.5 79.0 L518.2 75.4 L515.0 73.3 L513.7 69.4 L512.5 65.6 L511.2 61.7 L509.4 60.9 L506.7 60.3 L505.1 61.6 L503.6 63.0 L500.7 61.1 L499.3 65.7 L497.9 70.3 L498.5 73.4 L498.5 78.3 L497.5 81.6 L496.5 85.0Z" fill="#FFFFB2"/>
</g>
<g stroke="#c4b27c" stroke-width="0.7" stroke-linejoin="round">
<path d="M95.4 321.3 L100.7 323.3 L106.7 325.8 L112.0 327.8 L112.4 362.9 L115.7 363.2 L119.5 365.5 L123.3 367.7 L127.8 372.2 L131.5 376.0 L134.5 379.0 L134.5 382.0 L132.3 381.3 L129.3 377.5 L125.5 373.7 L121.7 370.0 L118.0 367.7 L114.2 366.2 L112.0 365.5 L109.7 364.7 L106.7 362.9 L104.4 362.0 L102.9 363.2 L100.7 366.2 L98.4 365.0 L96.9 363.9 L95.4 366.2 L93.9 368.5 L90.9 371.0 L88.6 373.0 L84.8 375.2 L81.1 377.5 L76.6 379.5 L71.3 381.3 L66.3 382.5 L66.8 381.0 L72.0 379.0 L77.3 376.7 L81.8 374.5 L84.8 372.2 L86.4 370.0 L84.1 369.2 L80.3 368.5 L78.1 367.0 L75.8 365.5 L75.1 363.2 L72.8 360.2 L72.0 357.2 L72.8 354.9 L75.1 353.4 L78.8 351.1 L82.6 348.9 L84.1 346.6 L81.1 345.1 L78.1 344.4 L75.8 342.9 L75.1 339.8 L77.3 337.6 L81.1 337.3 L84.1 337.6 L85.6 336.1 L84.8 334.6 L82.6 333.1 L81.1 330.1 L82.6 327.8 L86.4 324.8 L90.9 322.5Z" fill="#FECC5C"/>
<ellipse cx="90.5" cy="375.5" rx="2.2" ry="1.2" fill="#FECC5C" transform="rotate(-25 90.5 375.5)"/>
<g fill="#FECC5C"><circle cx="145.4" cy="333.7" r="1"/><circle cx="152" cy="336.3" r="2.1"/><ellipse cx="162.4" cy="342.2" rx="3" ry="1.8" transform="rotate(40 162.4 342.2)"/><ellipse cx="172.9" cy="346.8" rx="2.6" ry="0.9" transform="rotate(10 172.9 346.8)"/><circle cx="174.8" cy="350.7" r="1"/><ellipse cx="180.7" cy="351.3" rx="3" ry="1.7" transform="rotate(25 180.7 351.3)"/><path d="M187.9 359.2 L192.4 360.5 L197.7 365.7 L200.9 369 L196.4 372.9 L192.4 374.2 L189.2 370.3 L187.2 365Z"/></g>
<path d="M225.9 336 L247.2 349.9 L235.9 367.8 L233.9 361.9 L232.5 356.9 L228.9 351.9 L224.5 349.3 L219.3 345.9Z" fill="#BD0026"/>
<g fill="#BD0026"><path d="M273.7 337 L284.7 336.6 L298.6 336.6 L312.6 337.4 L321.5 339.9 L322.5 343.9 L316.6 349.9 L313.6 354.9 L300.6 356.9 L288.7 357.3 L273.7 357.9 L272.7 350.9 L273.7 346.9 L271.1 342.9 L272.7 338.9Z"/><circle cx="267.4" cy="355.9" r="1.2"/><path d="M319.5 354.2 L326.5 352 L326.3 350.8 L319.3 352.8Z"/><circle cx="325.1" cy="340.9" r="0.7"/></g>
<path d="M341.5 356.8 L347.8 349.6 L355.5 346.2 L363.2 344.5 L368.3 338.5 L375.1 333.4 L384.5 331.7 L393.0 329.1 L399.9 327.4 L400.7 331.2 L394.7 336.0 L386.2 337.7 L380.2 341.1 L375.1 346.2 L370.0 353.0 L365.7 359.0 L361.5 361.6 L355.5 360.7 L349.5 358.2 L345.2 356.5Z M418.6 345.4 L423.8 342.8 L429.7 339.4 L435.7 333.4 L440.0 326.6 L442.5 324.0 L446.8 325.7 L451.9 328.3 L448.5 335.1 L444.3 340.2 L439.1 344.5 L434.9 349.6 L430.6 357.3 L428.0 362.4 L423.8 362.4 L420.4 358.2 L419.5 351.3Z M362.0 329.1 L364.0 327.4 L367.1 327.8 L368.3 329.5 L366.1 331.2 L363.2 331.2Z M383.7 349.6 L386.2 347.6 L390.5 348.3 L395.1 352.2 L395.6 354.7 L391.3 354.4 L386.2 353.9 L383.7 352.7Z M455.2 350.5 L457.6 348.6 L467.7 348.3 L471.8 349.7 L470.5 352.3 L460.3 353.2 L456.3 352.7Z M472.4 342.2 L482.5 337.5 L485.3 330.1 L491.8 326.4 L496.4 329.2 L494.5 334.8 L487.2 337.5 L479.8 342.2 L474.2 344.6Z M472.4 360.6 L477.9 357.5 L482.9 357.9 L479.8 360.1 L474.2 361.6Z M507.5 324.6 L514.0 320.9 L521.4 318.1 L528.8 317.2 L532.5 320.0 L526.9 322.7 L519.5 324.6 L512.1 326.8 L508.0 326.8Z M538.9 313.5 L543.6 308.9 L550.9 306.5 L554.6 307.9 L550.9 311.6 L545.4 314.4 L540.8 316.3Z M520.4 350.5 L523.2 346.8 L530.6 341.2 L538.0 338.5 L547.2 336.6 L556.5 332.0 L561.1 331.1 L558.3 334.8 L550.9 340.3 L543.6 345.9 L534.3 351.4 L526.9 356.9 L522.3 360.6 L521.0 356.0Z" fill="url(#hatch)" stroke="#9a9a9a" stroke-width="0.7"/>
</g>
</svg>
<div class="lt">Rate per 100,000 among<br>selected population</div>
<div class="lg"><i style="background:#fff;position:relative"><svg width="10.8" height="14" viewBox="0 0 10.8 14" style="position:absolute;left:0;top:0"><path d="M2.9 0V14M5.6 0V14M8.3 0V14" stroke="#8c8c8c" stroke-width="0.6"/></svg></i><i style="background:#FFFFB2"></i><i style="background:#FECC5C"></i><i style="background:#FD8D3C"></i><i style="background:#F03B20"></i><i style="background:#BD0026"></i></div>
<div class="ll" style="top:168.3px">Data not available</div>
<div class="ll" style="top:182.7px">9.3 - 23.9</div>
<div class="ll" style="top:197px">24.2 - 34.8</div>
<div class="ll" style="top:211.3px">34.9 - 66.1</div>
<div class="ll" style="top:225.6px">69.3 - 122.3</div>
<div class="ll" style="top:239.9px">137.3 - 742.1</div>
<div class="note"><b>Note:</b> Prevalence data prior to 2010 are based on residence at diagnosis; prevalence data from 2010 to present are based &nbsp;on most recent known address.</div>
<div class="bar1"><span>Centers for Disease Control and Prevention</span></div>
<div class="bar2"><span>National Center for HIV/AIDS, Viral Hepatitis, STD, and TB Prevention</span></div>
<div class="stripe" style="left:0;width:438.5px;background:#0c7c8d"></div>
<div class="stripe" style="left:438.5px;width:67px;background:#a64db3"></div>
<div class="stripe" style="left:505.5px;width:67.5px;background:#d9381e"></div>
<div class="stripe" style="left:573px;width:68.5px;background:#8fb6e0"></div>
<div class="stripe" style="left:641.5px;width:61.5px;background:#f7941d"></div>
<div class="cdc"><svg width="46" height="49.5" viewBox="0 0 46 49.5" style="position:absolute;left:0;top:0">
<path d="M30.7 7.8 A18.3 18.3 0 1 0 23 43.2" fill="none" stroke="#a9d0f5" stroke-width="1.6" stroke-dasharray="0.8 0.7"/>
<g fill="none" stroke="#fff" stroke-width="1.5" stroke-linecap="round"><path d="M39.5 13.8 Q31.5 20 27.3 29.2"/><path d="M40.8 17.4 Q34 23.5 30.6 32"/><path d="M40 22.2 Q35.5 27 33 34.5"/></g>
<path d="M15.9 32.6 Q21 30.6 25.2 31.2 Q29.5 32 33.7 32.7 L42.4 32.2 L42.4 33.4 Q37 34.4 33.4 35.6 Q32.6 38.5 30.7 40.6 L29 43.6 L27.6 42.8 L28.8 40 Q26.4 37.8 26.2 35.6 Q21.5 35.6 15.9 32.6Z" fill="#fff"/>
</svg><div class="cdcbox"><span>CDC</span></div></div>
<svg class="atlas" viewBox="0 0 76 30" width="76" height="30">
<text x="1.2" y="11.3" font-family="Liberation Sans, sans-serif" font-weight="bold" font-size="12.4" fill="#1a7f86" textLength="33.5" lengthAdjust="spacingAndGlyphs">Atlas</text>
<text x="7.3" y="22.6" font-family="Liberation Sans, sans-serif" font-weight="bold" font-size="12.4" fill="#8e3a96" textLength="27" lengthAdjust="spacingAndGlyphs">Plus</text>
<rect x="35.6" y="4" width="36.4" height="18.6" fill="#b9bfe6"/>
<rect x="35.6" y="4" width="19" height="9.5" fill="#1a7f86"/>
<path d="M55 9 L60 6 L66 8 L70 5 L72 7 L68 12 L70 17 L64 20 L58 18 L55 14Z" fill="#6f7fc4"/>
<path d="M66 9 L71.5 4.6" stroke="#1a5f86" stroke-width="1.5"/>
<g fill="#8e3a96"><rect x="36.5" y="15" width="1.2" height="7.6"/><rect x="38.5" y="15" width="1.2" height="7.6"/><rect x="40.5" y="15" width="1.2" height="7.6"/><rect x="42.5" y="15" width="1.2" height="7.6"/><rect x="44.5" y="15" width="1.2" height="7.6"/><rect x="46.5" y="15" width="1.2" height="7.6"/><rect x="48.5" y="16.5" width="6" height="6.1"/></g>
<circle cx="58.2" cy="9.3" r="4" fill="#fff" stroke="#2a6f96" stroke-width="1.3"/>
<path d="M58.2 6.9 V11.7 M55.8 9.3 H60.6" stroke="#d43f8d" stroke-width="1.5"/>
<text x="39" y="11.6" font-family="Liberation Sans, sans-serif" font-size="3.6" fill="#cfe" >1799</text>
<text x="1" y="27.3" font-family="Liberation Sans, sans-serif" font-size="2.9" fill="#555" textLength="71.5" lengthAdjust="spacingAndGlyphs">Explore CDC's HIV • Hepatitis • STD • TB Data</text>
</svg>
</body></html>
